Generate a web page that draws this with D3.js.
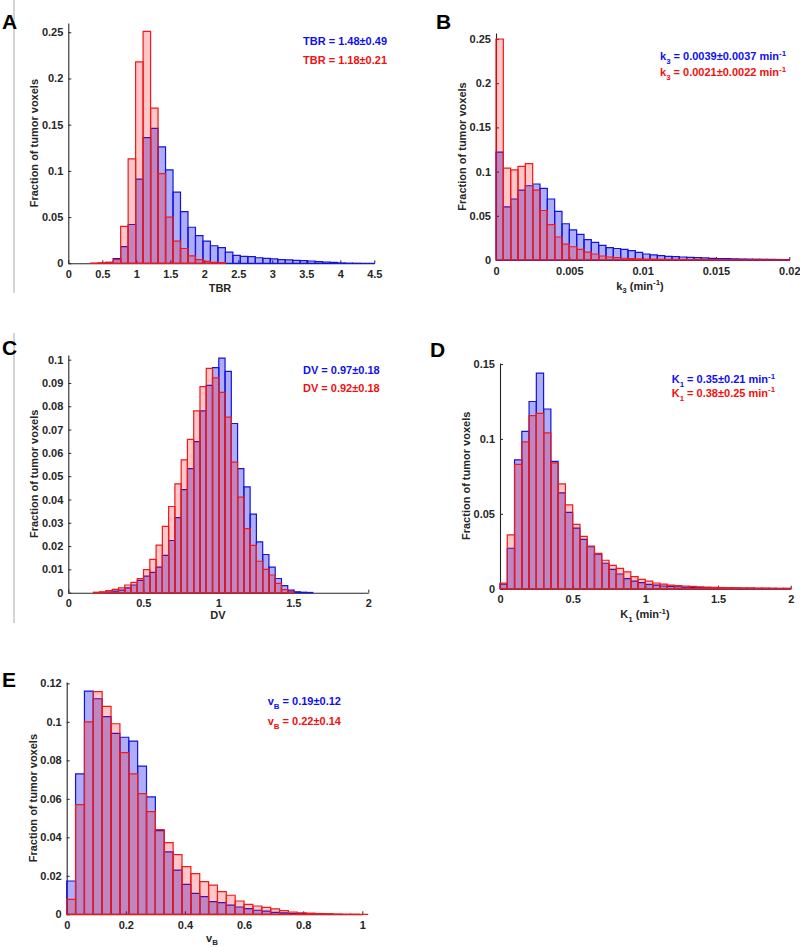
<!DOCTYPE html>
<html>
<head>
<meta charset="utf-8">
<script src="https://cdn.jsdelivr.net/npm/d3@7"></script>
<style>
body { margin: 0; background: #fff; }
svg { display: block; font-family: "Liberation Sans", Arial, sans-serif; font-weight: bold; }
</style>
</head>
<body>
<div id="fig"></div>
<script>
// ---------- data (fraction of tumor voxels per bin) ----------

// A: TBR
var tbrWidth = 0.11
var tbrBlueFrom = 0.44
var tbrBlue = [0.0002, 0.001, 0.005, 0.018, 0.042, 0.091, 0.136, 0.146, 0.126, 0.101,
    0.077, 0.056, 0.039, 0.030, 0.024, 0.019, 0.017, 0.012, 0.0086, 0.0075,
    0.0072, 0.006, 0.0054, 0.0047, 0.004, 0.0036, 0.0032, 0.0029, 0.0025, 0.0018,
    0.0014, 0.001, 0.0004, 0.0002, 0.0001, 0, 0]
var tbrRedFrom = 0.33
var tbrRed = [0.0003, 0.0005, 0.001, 0.004, 0.040, 0.113, 0.218, 0.251, 0.168, 0.097,
    0.050, 0.024, 0.016, 0.008, 0.004, 0.002, 0.001, 0.0007]
var tbrTicksX = [0, 0.5, 1, 1.5, 2, 2.5, 3, 3.5, 4, 4.5]
var tbrTicksY = [0, 0.05, 0.1, 0.15, 0.2, 0.25]
var tbrLegend = ["TBR = 1.48±0.49", "TBR = 1.18±0.21"]

// B: k3
var k3Width = 0.0005
var k3BlueFrom = 0
var k3Blue = [0.122, 0.060, 0.069, 0.079, 0.084, 0.086, 0.081, 0.069, 0.055, 0.041,
    0.034, 0.029, 0.023, 0.020, 0.0166, 0.014, 0.013, 0.012, 0.0106, 0.0087,
    0.0068, 0.0057, 0.005, 0.0041, 0.0038, 0.0034, 0.003, 0.0026, 0.0023, 0.0019,
    0.0017, 0.0015, 0.0013, 0.0011, 0.001, 0.0009, 0.0008, 0.0007, 0.0006, 0.0005]
var k3RedFrom = 0
var k3Red = [0.250, 0.104, 0.102, 0.106, 0.109, 0.079, 0.056, 0.040, 0.026, 0.018,
    0.015, 0.012, 0.009, 0.0068, 0.0045, 0.0034, 0.0026, 0.002, 0.0015, 0.0012,
    0.001, 0.0009, 0.0008, 0.0007, 0.0006, 0.0006, 0.0005, 0.0005, 0.0004, 0.0004,
    0.0003, 0.0003, 0.0003, 0.0002, 0.0002, 0.0002, 0.0002, 0.0001, 0.0001, 0.0001]
var k3TicksX = [0, 0.005, 0.01, 0.015, 0.02]
var k3TicksY = [0, 0.05, 0.1, 0.15, 0.2, 0.25]
var k3Legend = ["k_{3} = 0.0039±0.0037 min^{-1}", "k_{3} = 0.0021±0.0022 min^{-1}"]

// C: DV
var dvWidth = 0.0418
var dvBlueFrom = 6 * 0.0418
var dvBlue = [0.0003, 0.0007, 0.0011, 0.0021, 0.0033, 0.0053, 0.0071, 0.0087, 0.011, 0.016,
    0.0224, 0.0322, 0.0442, 0.0532, 0.0648, 0.078, 0.089, 0.0966, 0.1007, 0.095,
    0.0726, 0.0532, 0.0454, 0.0337, 0.0218, 0.0164, 0.011, 0.0061, 0.003, 0.0011,
    0.0004, 0.0002, 0.0001]
var dvRedFrom = 4 * 0.0418
var dvRed = [0.0002, 0.0004, 0.0009, 0.0014, 0.0021, 0.0033, 0.0044, 0.006, 0.0099, 0.0143,
    0.0204, 0.0285, 0.037, 0.0467, 0.057, 0.0658, 0.078, 0.0884, 0.0963, 0.0922,
    0.086, 0.0753, 0.056, 0.041, 0.0275, 0.0203, 0.0135, 0.01, 0.0076, 0.004,
    0.0013, 0.0004]
var dvTicksX = [0, 0.5, 1, 1.5, 2]
var dvTicksY = [0, 0.01, 0.02, 0.03, 0.04, 0.05, 0.06, 0.07, 0.08, 0.09, 0.1]
var dvLegend = ["DV = 0.97±0.18", "DV = 0.92±0.18"]

// D: K1
var k1Width = 0.05
var k1BlueFrom = 0
var k1Blue = [0.003, 0.027, 0.086, 0.105, 0.125, 0.144, 0.120, 0.085, 0.064, 0.051,
    0.0405, 0.033, 0.028, 0.023, 0.017, 0.0129, 0.0098, 0.0067, 0.0051, 0.004,
    0.0029, 0.0024, 0.0018, 0.0016, 0.0013, 0.0011, 0.0009, 0.0008, 0.0007, 0.0006,
    0.0005, 0.0004, 0.0004, 0.0003, 0.0003, 0.0002, 0.0002, 0.0002, 0.0001, 0.0001]
var k1RedFrom = 0
var k1Red = [0.0038, 0.036, 0.083, 0.098, 0.1155, 0.117, 0.104, 0.084, 0.070, 0.056,
    0.043, 0.035, 0.0285, 0.0236, 0.019, 0.0156, 0.0136, 0.0113, 0.008, 0.0062,
    0.0051, 0.0038, 0.0031, 0.0024, 0.002, 0.0018, 0.0015, 0.0012, 0.001, 0.0009,
    0.0008, 0.0007, 0.0006, 0.0005, 0.0005, 0.0004, 0.0004, 0.0003, 0.0003, 0.0003]
var k1TicksX = [0, 0.5, 1, 1.5, 2]
var k1TicksY = [0, 0.05, 0.1, 0.15]
var k1Legend = ["K_{1} = 0.35±0.21 min^{-1}", "K_{1} = 0.38±0.25 min^{-1}"]

// E: vB
var vbWidth = 0.03
var vbBlueFrom = 0
var vbBlue = [0.0173, 0.073, 0.116, 0.112, 0.1027, 0.094, 0.092, 0.090, 0.077, 0.061,
    0.0435, 0.0324, 0.023, 0.0156, 0.0109, 0.0092, 0.0066, 0.0061, 0.0048, 0.0038,
    0.0029, 0.0021, 0.0016, 0.001, 0.0007, 0.0005, 0.0004, 0.0003, 0.0002, 0.0001]
var vbRedFrom = 0
var vbRed = [0.0078, 0.057, 0.100, 0.1157, 0.108, 0.099, 0.084, 0.073, 0.0627, 0.0533,
    0.044, 0.0372, 0.031, 0.0248, 0.0211, 0.017, 0.0152, 0.0118, 0.0099, 0.0069,
    0.0052, 0.0043, 0.0036, 0.0028, 0.0019, 0.0012, 0.0008, 0.0006, 0.0004, 0.0003,
    0.0002, 0.0001, 0.0001, 0]
var vbTicksX = [0, 0.2, 0.4, 0.6, 0.8, 1]
var vbTicksY = [0, 0.02, 0.04, 0.06, 0.08, 0.1, 0.12]
var vbLegend = ["v_{B} = 0.19±0.12", "v_{B} = 0.22±0.14"]

var yTitle = "Fraction of tumor voxels"

// ---------- layout ----------
var W = 800, H = 947
var blueFill = "rgba(0,0,235,0.32)", blueEdge = "#1515d8"
var redFill = "rgba(255,0,0,0.22)", redEdge = "#f01a1a"
var ink = "#262626"

var panels = [
    {letter: "A", lx: 2, ly: 28.5, left: 68.3, right: 374.3, top: 23, bottom: 263.3, xmax: 4.5, ymax: 0.26,
        blue: tbrBlue, blueFrom: tbrBlueFrom, red: tbrRed, redFrom: tbrRedFrom, width: tbrWidth,
        ticksX: tbrTicksX, ticksY: tbrTicksY, legend: tbrLegend, legX: 303, legY: [45, 63.5],
        xTitle: "TBR", xtX: 220, xtY: 291.5},
    {letter: "B", lx: 436, ly: 28.5, left: 496, right: 789.3, top: 33, bottom: 260, xmax: 0.02, ymax: 0.2568,
        blue: k3Blue, blueFrom: k3BlueFrom, red: k3Red, redFrom: k3RedFrom, width: k3Width,
        ticksX: k3TicksX, ticksY: k3TicksY, legend: k3Legend, legX: 660, legY: [60, 76],
        xTitle: "k_{3} (min^{-1})", xtX: 640, xtY: 289.5},
    {letter: "C", lx: 2, ly: 355, left: 68.3, right: 368.3, top: 355, bottom: 592.7, xmax: 2, ymax: 0.102,
        blue: dvBlue, blueFrom: dvBlueFrom, red: dvRed, redFrom: dvRedFrom, width: dvWidth,
        ticksX: dvTicksX, ticksY: dvTicksY, legend: dvLegend, legX: 303, legY: [374, 392.3],
        xTitle: "DV", xtX: 218, xtY: 619.3},
    {letter: "D", lx: 430, ly: 357, left: 500, right: 790.7, top: 363, bottom: 588.7, xmax: 2, ymax: 0.1507,
        blue: k1Blue, blueFrom: k1BlueFrom, red: k1Red, redFrom: k1RedFrom, width: k1Width,
        ticksX: k1TicksX, ticksY: k1TicksY, legend: k1Legend, legX: 671.7, legY: [383.3, 396.7],
        xTitle: "K_{1} (min^{-1})", xtX: 645, xtY: 618},
    {letter: "E", lx: 2, ly: 687, left: 66.7, right: 362.3, top: 682, bottom: 914.3, xmax: 1, ymax: 0.1207,
        blue: vbBlue, blueFrom: vbBlueFrom, red: vbRed, redFrom: vbRedFrom, width: vbWidth,
        ticksX: vbTicksX, ticksY: vbTicksY, legend: vbLegend, legX: 267.7, legY: [705, 725],
        xTitle: "v_{B}", xtX: 212, xtY: 941.5}
]

var svg = d3.select("#fig").append("svg")
    .attr("width", W)
    .attr("height", H)

// stray gray crop lines on the left margin of the original figure
svg.append("line").attr("x1", 14).attr("x2", 14).attr("y1", 0).attr("y2", 293)
    .attr("stroke", "#aaa").attr("stroke-width", 1)
svg.append("line").attr("x1", 14).attr("x2", 14).attr("y1", 333).attr("y2", 623)
    .attr("stroke", "#aaa").attr("stroke-width", 1)

// text with tex-like _{sub} and ^{sup}
function texText(sel, str, size) {
    var parts = str.match(/_\{[^}]*\}|\^\{[^}]*\}|[^_^]+/g)
    var shift = 0
    parts.forEach(function (p) {
        var s = 0, fs = size, t = p
        if (p[0] === "_") { s = size * 0.35; fs = size * 0.72; t = p.slice(2, -1) }
        if (p[0] === "^") { s = -size * 0.4; fs = size * 0.72; t = p.slice(2, -1) }
        sel.append("tspan")
            .attr("dy", s - shift)
            .attr("font-size", fs)
            .text(t)
        shift = s
    })
}

var fmt = d3.format("~g")

panels.forEach(function (p) {
    var g = svg.append("g")

    var x = d3.scaleLinear().domain([0, p.xmax]).range([p.left, p.right])
    var y = d3.scaleLinear().domain([0, p.ymax]).range([p.bottom, p.top])

    // axes
    var xAxis = g.append("g")
        .attr("transform", `translate(0,${p.bottom})`)
        .call(d3.axisBottom(x).tickValues(p.ticksX).tickFormat(fmt)
            .tickSizeInner(-3).tickSizeOuter(0).tickPadding(7))
    var yAxis = g.append("g")
        .attr("transform", `translate(${p.left},0)`)
        .call(d3.axisLeft(y).tickValues(p.ticksY).tickFormat(fmt)
            .tickSizeInner(-3).tickSizeOuter(0).tickPadding(5))

    ;[xAxis, yAxis].forEach(function (a) {
        a.attr("font-family", null).attr("font-size", 11)
        a.select(".domain").attr("stroke", ink).attr("stroke-width", 1.1)
        a.selectAll(".tick line").attr("stroke", ink)
        a.selectAll(".tick text").attr("fill", ink)
    })

    // histogram bars, blue first then red on top
    function bars(values, from, fill, edge) {
        g.append("g").selectAll("path")
            .data(values)
            .join("path")
            .attr("d", function (v, i) {
                var x0 = x(from + i * p.width), x1 = x(from + (i + 1) * p.width)
                var y0 = y(0), y1 = y(v)
                return `M${x0},${y0}V${y1}H${x1}V${y0}Z`
            })
            .attr("fill", fill)
            .attr("stroke", edge)
            .attr("stroke-width", 1.2)
            .attr("stroke-linejoin", "miter")
    }
    bars(p.blue, p.blueFrom, blueFill, blueEdge)
    bars(p.red, p.redFrom, redFill, redEdge)

    // legend text
    p.legend.forEach(function (s, i) {
        var t = g.append("text")
            .attr("x", p.legX)
            .attr("y", p.legY[i])
            .attr("fill", i === 0 ? "#1010ee" : "#f01010")
            .attr("font-size", 11)
        texText(t, s, 11)
    })

    // axis titles
    var xt = g.append("text")
        .attr("x", p.xtX)
        .attr("y", p.xtY)
        .attr("text-anchor", "middle")
        .attr("fill", ink)
        .attr("font-size", 11)
    texText(xt, p.xTitle, 11)

    g.append("text")
        .attr("transform", `translate(${p.left - 34},${(p.top + p.bottom) / 2}) rotate(-90)`)
        .attr("text-anchor", "middle")
        .attr("dominant-baseline", "central")
        .attr("fill", ink)
        .attr("font-size", 11)
        .text(yTitle)

    // panel letter
    g.append("text")
        .attr("x", p.lx)
        .attr("y", p.ly)
        .attr("font-size", 21)
        .attr("fill", "#000")
        .text(p.letter)
})
</script>
</body>
</html>
